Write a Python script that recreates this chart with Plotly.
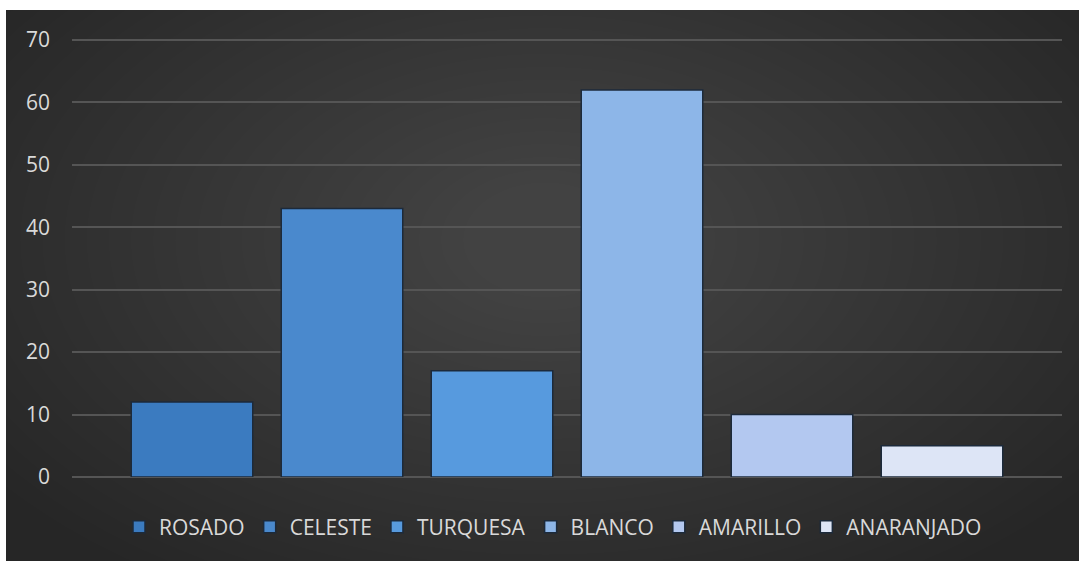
import plotly.graph_objects as go

# Data
categories = ["ROSADO", "CELESTE", "TURQUESA", "BLANCO", "AMARILLO", "ANARANJADO"]
values = [12, 43, 17, 62, 10, 5]
colors = ["#3b7bc0", "#4a89cd", "#579ade", "#8db6e8", "#b3c8f0", "#dde5f6"]
y_ticks = [0, 10, 20, 30, 40, 50, 60, 70]

# Figure geometry (pixels)
W, H = 1079, 561
ML, MR, MT, MB = 72, 17, 38, 84
PW, PH = W - ML - MR, H - MT - MB
Y_TOP = PH / (437 / 70)  # keeps 70 at the same pixel row while leaving room for its gridline


def px_x(x):
    return (x - ML) / PW


def px_y(y):
    return (H - MB - y) / PH


fig = go.Figure()
for name, val, col in zip(categories, values, colors):
    fig.add_trace(go.Bar(
        x=[name], y=[val], name=name,
        marker=dict(color=col, line=dict(color="#1c2a3b", width=1.5)),
        hoverinfo="x+y",
    ))

shapes = [dict(
    type="rect", xref="paper", yref="paper", layer="below",
    x0=px_x(6), x1=px_x(W + 2), y0=px_y(H + 2), y1=px_y(10),
    fillcolor="#262626", line=dict(width=0),
)]
# soft radial glow in the middle of the dark panel
cx, cy = 545, 240
n = 28
for i in range(n):
    f = 1 - i / n
    rx, ry = 60 + 620 * f, 45 + 360 * f
    shapes.append(dict(
        type="circle", xref="paper", yref="paper", layer="below",
        x0=px_x(cx - rx), x1=px_x(cx + rx), y0=px_y(cy + ry), y1=px_y(cy - ry),
        fillcolor="rgba(255,255,255,0.0075)", line=dict(width=0),
    ))
# white strips along the top and left edges
shapes.append(dict(
    type="rect", xref="paper", yref="paper", layer="below",
    x0=px_x(-5), x1=px_x(W + 5), y0=px_y(10), y1=px_y(-5),
    fillcolor="#ffffff", line=dict(width=0),
))
shapes.append(dict(
    type="rect", xref="paper", yref="paper", layer="below",
    x0=px_x(-5), x1=px_x(6), y0=px_y(H + 5), y1=px_y(-5),
    fillcolor="#ffffff", line=dict(width=0),
))

fig.update_layout(
    width=W, height=H,
    margin=dict(l=ML, r=MR, t=MT, b=MB),
    paper_bgcolor="#ffffff",
    plot_bgcolor="rgba(0,0,0,0)",
    barmode="overlay",
    bargap=0.19,
    shapes=shapes,
    font=dict(family="Open Sans, sans-serif", size=20, color="#d9d9d9"),
    xaxis=dict(
        type="category", categoryorder="array", categoryarray=categories,
        range=[-0.8, 5.8], showticklabels=False, showgrid=False,
        zeroline=False, showline=False, fixedrange=True,
    ),
    yaxis=dict(
        range=[0, Y_TOP], tickvals=y_ticks, ticktext=[str(v) for v in y_ticks],
        showgrid=True, gridcolor="#555555", gridwidth=1.5,
        zeroline=True, zerolinecolor="#555555", zerolinewidth=1.5,
        showline=False, ticks="", ticklabelstandoff=21,
        tickfont=dict(size=21, color="#d9d9d9"), fixedrange=True,
    ),
    legend=dict(
        orientation="h", x=px_x(553), xanchor="center",
        y=px_y(527), yanchor="middle",
        font=dict(size=21, color="#d9d9d9"),
        bgcolor="rgba(0,0,0,0)", itemclick=False, itemdoubleclick=False,
    ),
    showlegend=True,
)

fig.write_html("out.html")
